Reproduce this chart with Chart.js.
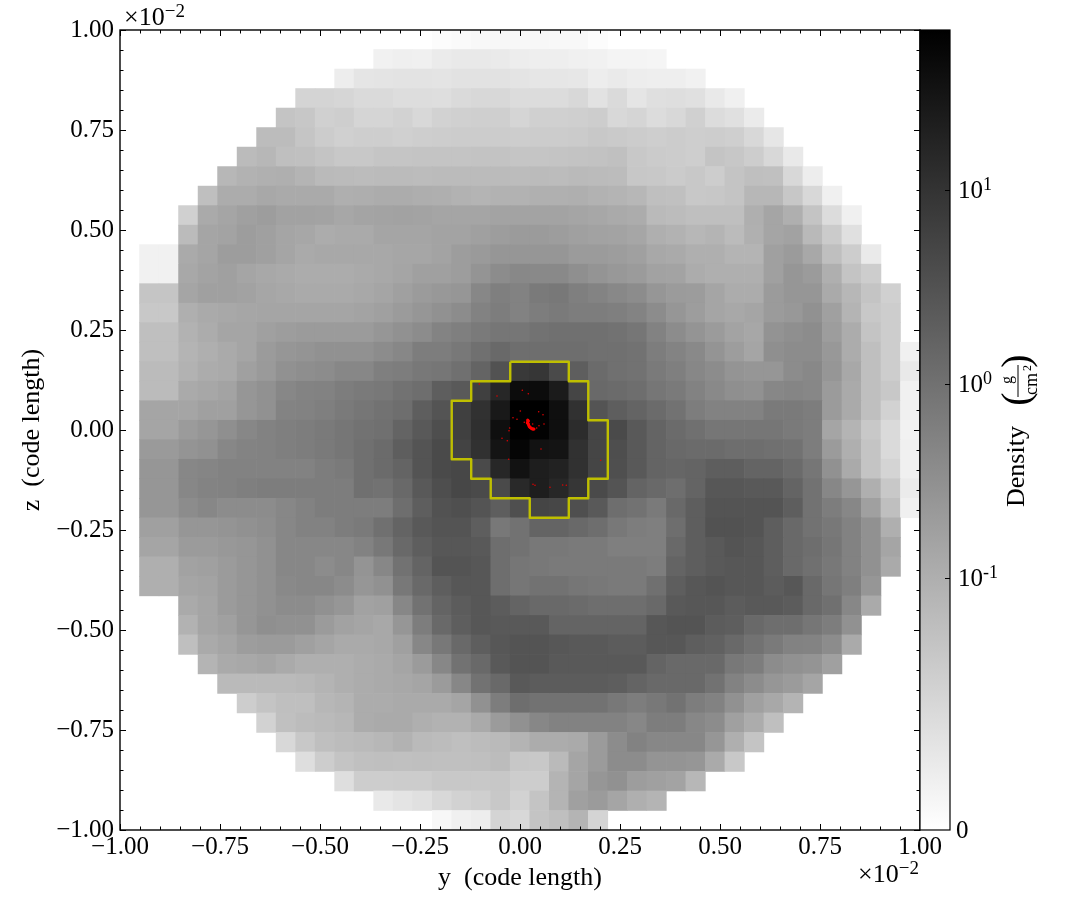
<!DOCTYPE html>
<html>
<head>
<meta charset="utf-8">
<title>Density slice</title>
<script src="https://cdn.jsdelivr.net/npm/chart.js@4"></script>
<style>
  html, body { margin: 0; padding: 0; background: #fff; }
  #wrap { position: relative; width: 1085px; height: 920px; }
  canvas { position: absolute; left: 0; top: 0; }
</style>
</head>
<body>
<div id="wrap">
  <canvas id="slice" width="1085" height="920"></canvas>
  <canvas id="colorbar" width="1085" height="920"></canvas>
</div>
<script>
// grid size of the slice, values are Density in g/cm2
var gridSize = 41;
// first filled column of each row, top row first
var rowStart = [16,13,11,9,8,7,6,5,4,3,3,1,1,1,1,1,1,1,1,1,1,1,1,1,1,1,1,1,1,3,3,3,4,5,6,7,8,9,11,13,16];
var densityRows = [
  [.0037,.0062,.0086,.01,.01,.01,.0086,.0086,.0037],
  [.017,.02,.0185,.025,.028,.027,.026,.023,.021,.021,.0185,.017,.014,.014,.012],
  [.023,.032,.033,.035,.035,.033,.036,.036,.036,.033,.031,.031,.03,.023,.026,.022,.021,.021,.017],
  [.054,.054,.051,.046,.046,.042,.042,.041,.046,.048,.048,.044,.043,.043,.048,.036,.046,.032,.04,.041,.038,.028,.0185],
  [.074,.07,.058,.061,.052,.052,.056,.049,.056,.058,.06,.06,.052,.058,.058,.06,.062,.049,.052,.044,.048,.058,.043,.038,.025],
  [.084,.084,.072,.063,.058,.061,.061,.058,.061,.062,.063,.064,.064,.062,.063,.063,.065,.068,.066,.063,.061,.063,.061,.062,.06,.048,.031],
  [.085,.09,.08,.078,.073,.069,.069,.072,.072,.073,.074,.074,.075,.075,.072,.072,.074,.075,.076,.078,.068,.065,.063,.061,.074,.07,.062,.049,.027],
  [.09,.096,.098,.099,.093,.086,.085,.084,.085,.085,.083,.085,.085,.085,.085,.084,.085,.084,.086,.085,.084,.07,.068,.065,.068,.062,.074,.08,.078,.049,.023],
  [.08,.11,.11,.13,.12,.12,.12,.1,.102,.11,.11,.102,.099,.096,.093,.096,.096,.098,.098,.099,.096,.093,.09,.08,.078,.068,.07,.073,.09,.09,.07,.049,.0185],
  [.058,.12,.145,.175,.19,.16,.16,.155,.135,.15,.155,.16,.155,.145,.145,.145,.155,.155,.155,.155,.145,.135,.12,.11,.086,.084,.08,.08,.08,.1,.145,.1,.074,.043,.0185],
  [.085,.145,.155,.19,.175,.145,.135,.11,.12,.12,.145,.145,.145,.155,.155,.175,.19,.21,.21,.19,.175,.16,.155,.14,.099,.096,.09,.093,.085,.098,.145,.16,.087,.065,.038],
  [.017,.017,.12,.145,.19,.19,.175,.145,.12,.13,.13,.13,.13,.14,.14,.155,.19,.22,.25,.25,.25,.25,.21,.21,.19,.175,.13,.12,.1,.099,.093,.093,.175,.21,.13,.08,.062,.026],
  [.017,.017,.13,.155,.175,.145,.13,.12,.11,.11,.11,.12,.13,.145,.175,.175,.19,.27,.37,.43,.41,.41,.33,.27,.23,.21,.16,.155,.11,.1,.099,.099,.175,.25,.21,.1,.074,.062],
  [.072,.072,.145,.175,.175,.16,.14,.13,.12,.12,.12,.13,.145,.175,.21,.23,.25,.44,.6,.53,.7,.78,.6,.5,.42,.37,.25,.21,.2,.145,.11,.11,.21,.25,.25,.12,.09,.074,.058],
  [.068,.068,.1,.12,.13,.14,.145,.145,.145,.145,.145,.155,.175,.21,.25,.3,.37,.53,.64,.53,.64,.72,.64,.64,.6,.5,.37,.25,.19,.145,.13,.145,.21,.23,.3,.175,.093,.068,.062],
  [.08,.08,.096,.11,.145,.145,.175,.19,.21,.21,.21,.21,.25,.3,.37,.5,.58,.72,.84,.84,.94,1.05,1.05,1.05,.94,.84,.53,.37,.27,.21,.155,.135,.28,.33,.37,.19,.11,.074,.062],
  [.08,.08,.093,.1,.12,.145,.21,.25,.27,.3,.3,.3,.37,.44,.64,.64,.78,1.05,1.36,1.13,1.13,1.13,1.13,1.05,1.05,.94,.64,.5,.4,.27,.19,.145,.33,.37,.37,.23,.11,.08,.062,.0185],
  [.085,.085,.096,.11,.12,.175,.22,.3,.34,.37,.44,.44,.58,.64,.78,.84,1.05,1.63,3.2,7.9,8.9,4.2,2,1.22,1.05,.94,.72,.58,.44,.37,.27,.25,.25,.37,.42,.25,.13,.08,.062,.028],
  [.085,.085,.12,.135,.155,.25,.3,.44,.5,.53,.64,.72,.78,.94,1.13,2,2.4,6.1,15.5,43,43,24,5.1,1.36,1.22,1.13,.84,.72,.53,.4,.33,.3,.44,.48,.44,.21,.12,.08,.068,.0185],
  [.145,.145,.145,.175,.175,.25,.3,.5,.53,.58,.72,.84,.94,1.13,2,2.9,6.1,10.7,26.6,66,66,38,10.7,2.9,2,1.63,1.22,.94,.64,.53,.53,.53,.72,.72,.64,.21,.12,.08,.056,.0185],
  [.145,.145,.21,.25,.33,.44,.53,.58,.64,.72,.84,.94,1.05,1.63,2.4,3.7,6.1,11.5,38,66,62,38,12.9,5.1,4.2,2.4,1.63,1.22,1.05,.84,.84,.84,.84,.72,.64,.145,.093,.068,.046,.016],
  [.22,.22,.27,.3,.44,.5,.53,.58,.64,.72,.84,1.05,1.22,2,2.9,4.2,5.5,10.7,32,56,34,32,10.7,5.1,3.7,2.4,1.63,1.36,1.22,1.22,1.13,1.13,1.05,.94,.64,.21,.1,.074,.046,.0185],
  [.25,.25,.44,.48,.53,.53,.53,.53,.53,.64,.72,1.05,1.22,1.63,2.9,4.2,4.7,4.2,15.5,34,22,18.6,10.7,5.1,3.5,2.4,1.63,1.51,1.63,2,2,1.63,1.63,1.22,.84,.3,.12,.074,.053,.0185],
  [.25,.25,.44,.5,.53,.58,.64,.64,.64,.64,.64,1.05,.94,1.36,2.4,3.7,4.7,4.2,4.2,14.3,22,15.5,8.9,4.2,2.9,1.63,1.36,1.13,1.63,2.6,2.6,2.4,2.4,1.63,.94,.44,.25,.1,.068,.025],
  [.25,.25,.37,.44,.37,.37,.37,.44,.53,.64,.64,.64,.64,1.13,2,3.2,3.5,2.9,2,3.5,5.1,4.7,3.5,2.4,1.13,.94,.72,1.36,2,2.9,2.9,2.9,2.9,2,.94,.64,.44,.175,.08,.0185],
  [.175,.175,.25,.25,.27,.3,.34,.44,.53,.53,.64,.72,1.05,1.63,2.4,2.9,2.9,2,.78,.94,1.63,1.63,1.36,1.13,.78,.64,.58,1.13,2,3.1,3.1,2.9,2,1.36,.94,.78,.53,.3,.1],
  [.145,.145,.21,.21,.23,.25,.3,.44,.44,.44,.44,.53,.78,1.36,2,2.6,2.6,2.4,1.13,.94,.78,.78,.72,.72,.58,.58,.58,1.36,2,2.4,2.9,2.6,2,1.36,1.13,.84,.53,.3,.145],
  [.1,.1,.16,.175,.21,.25,.3,.44,.44,.37,.44,.27,.44,.94,1.63,2.9,2.9,2.6,1.13,.84,.78,.72,.72,.72,.72,.72,.64,1.63,2,2.4,2.6,2.6,2,1.36,1.05,.78,.53,.3,.12],
  [.1,.1,.145,.155,.21,.25,.3,.4,.44,.44,.37,.25,.3,.78,1.36,2,2.6,2.6,1.13,.84,.94,.94,.84,.78,.72,.72,1.05,2,2.6,2.9,2.6,2.6,2.2,2.6,1.36,.84,.58,.25],
  [.12,.145,.21,.25,.3,.37,.37,.3,.25,.16,.175,.44,.94,1.63,2.2,2.6,2.2,1.63,1.36,1.36,1.22,1.13,1.13,1.13,1.36,2.4,2.6,2.6,2.2,2.4,2.4,2.2,1.36,1.05,.44,.12],
  [.096,.145,.175,.25,.33,.3,.3,.21,.16,.145,.13,.25,.64,1.36,2,2.6,2.4,2.4,2.4,1.63,1.63,1.63,1.63,1.63,2.6,2.9,2.9,2.2,2,1.36,1.13,1.13,.84,.64,.3],
  [.08,.12,.145,.19,.21,.21,.175,.145,.12,.12,.13,.175,.44,.78,1.36,2,2.6,2.9,2.9,2.6,2.4,2.4,2.2,2.2,2.6,2.6,2,1.8,1.36,.94,.72,.53,.5,.37,.12],
  [.093,.12,.13,.145,.12,.1,.1,.1,.11,.12,.145,.21,.44,.94,1.36,2.4,2.9,2.9,2.4,2.4,2.4,2.4,2.4,1.63,1.36,1.36,1.36,.78,.64,.37,.3,.27,.175],
  [.086,.086,.086,.086,.089,.093,.1,.11,.12,.13,.145,.21,.44,.94,1.36,2.4,2.2,2.2,2.2,2.2,2,1.63,1.36,1.36,1.36,.94,.53,.37,.25,.21,.145],
  [.062,.074,.08,.08,.09,.093,.11,.11,.12,.12,.12,.145,.3,.64,1.13,.94,.94,.94,.94,.78,.64,.78,.94,.64,.53,.3,.175,.13,.093],
  [.056,.078,.083,.086,.09,.11,.12,.12,.1,.096,.096,.12,.21,.3,.44,.53,.53,.53,.53,.44,.64,.64,.44,.37,.175,.11,.08],
  [.049,.068,.08,.084,.086,.09,.096,.086,.083,.08,.083,.086,.093,.11,.11,.12,.21,.37,.53,.44,.44,.44,.25,.1,.074],
  [.041,.062,.074,.078,.08,.078,.08,.078,.078,.08,.083,.07,.068,.086,.145,.21,.37,.37,.27,.27,.25,.12,.068],
  [.041,.062,.062,.064,.064,.068,.068,.068,.07,.062,.062,.093,.145,.25,.3,.19,.175,.155,.09],
  [.028,.033,.038,.049,.056,.06,.068,.056,.074,.093,.175,.21,.145,.1,.093],
  [.01,.0185,.022,.053,.049,.074,.08,.093,.053]
];

// yellow contour, in units of 1e-2 code length
var contourY = [-.0244,.122,.122,.1707,.1707,.2195,.2195,.1707,.1707,.122,.122,.0244,.0244,-.0732,-.0732,-.122,-.122,-.1707,-.1707,-.122,-.122,-.0244,-.0244];
var contourZ = [.1707,.1707,.122,.122,.0244,.0244,-.122,-.122,-.1707,-.1707,-.2195,-.2195,-.1707,-.1707,-.122,-.122,-.0732,-.0732,.0732,.0732,.122,.122,.1707];

// red particles, scattered ones
var particleY = [-.1017,-.0575,.0058,.0208,.0008,.0467,.0575,-.0175,-.0075,.0108,.06,.0317,.0475,.0417,-.0258,-.0275,-.045,-.0317,.0525,-.0283,.2017,.0325,.0375,.075,.1067,.1158];
var particleZ = [.115,.085,.0992,.0908,.0475,.0458,.0383,.0308,.0267,.0192,.015,.015,.0108,.005,.005,-.0017,-.0208,-.0267,-.0475,-.0733,-.0758,-.1358,-.1383,-.1433,-.1375,-.1383];
// red particles, the tight arc at the centre
var arcY = [.0192,.02,.0208,.0196,.0183,.0196,.0208,.0216,.0225,.0238,.025,.0266,.0283,.03,.0317,.0333,.035];
var arcZ = [.025,.0238,.0225,.0204,.0183,.0166,.015,.0125,.01,.0083,.0067,.0054,.0042,.0033,.0025,.0025,.0025];

var axisTicks = [-1, -.75, -.5, -.25, 0, .25, .5, .75, 1];
var colorbarTicks = [0, .1, 1, 10];
var densityMax = 66.8;

var serif = '"Liberation Serif", serif';

// colorbar scale: linear below 0.1, log above it, returns 0..1
function densityToFrac(d) {
  var pos = d < .1 ? 252 * d / .1 : 252 + 194 * Math.log10(d / .1);
  return Math.min(pos / 800, 1);
}
function densityColor(d) {
  var g = Math.round(255 * (1 - densityToFrac(d)));
  return 'rgb(' + g + ',' + g + ',' + g + ')';
}
function tickText(v) {
  return (v < 0 ? '\u2212' : '') + Math.abs(v).toFixed(2);
}

var cells = [], cellColors = [];
var cellSize = 2 / gridSize;
densityRows.forEach(function (row, j) {
  row.forEach(function (d, k) {
    var i = rowStart[j] + k;
    var top = 1 - j * cellSize;
    // small overlap so no white seams show between the cells
    cells.push({ x: -1 + (i + .5) * cellSize, y: [top - cellSize - .0008, top + .0008] });
    cellColors.push(densityColor(d));
  });
});

var contour = contourY.map(function (y, n) { return { x: y, y: contourZ[n] }; });
var particles = particleY.map(function (y, n) { return { x: y, y: particleZ[n] }; });
var arc = arcY.map(function (y, n) { return { x: y, y: arcZ[n] }; });

// text with a raised exponent
function drawPower(ctx, x, y, base, exp, size) {
  ctx.textAlign = 'left';
  ctx.textBaseline = 'alphabetic';
  ctx.font = size + 'px ' + serif;
  ctx.fillText(base, x, y);
  var w = ctx.measureText(base).width;
  ctx.font = Math.round(size * .73) + 'px ' + serif;
  ctx.fillText(exp, x + w, y - 8);
}

var framePlugin = {
  id: 'frame',
  afterDatasetsDraw: function (chart) {
    var ctx = chart.ctx, a = chart.chartArea;
    var sx = chart.scales.x, sy = chart.scales.y;
    ctx.save();
    ctx.strokeStyle = '#000';
    ctx.lineWidth = 1;
    ctx.beginPath();
    for (var n = 0; n <= 40; n++) {
      var v = -1 + n * .05;
      var len = n % 5 === 0 ? 6 : 3.5;
      var px = Math.round(sx.getPixelForValue(v)) + .5;
      var py = Math.round(sy.getPixelForValue(v)) + .5;
      ctx.moveTo(px, a.bottom); ctx.lineTo(px, a.bottom - len);
      ctx.moveTo(px, a.top); ctx.lineTo(px, a.top + len);
      ctx.moveTo(a.left, py); ctx.lineTo(a.left + len, py);
      ctx.moveTo(a.right, py); ctx.lineTo(a.right - len, py);
    }
    ctx.stroke();
    ctx.lineWidth = 1.4;
    ctx.strokeRect(a.left, a.top, a.right - a.left, a.bottom - a.top);
    // offset text of both axes
    ctx.fillStyle = '#000';
    drawPower(ctx, 124, 25, '\u00d710', '\u22122', 26);
    drawPower(ctx, 858, 882, '\u00d710', '\u22122', 26);
    ctx.restore();
  }
};

new Chart(document.getElementById('slice'), {
  type: 'bar',
  data: {
    datasets: [
      { type: 'scatter', data: arc, pointRadius: 1.5, pointBorderWidth: 0, backgroundColor: '#ff0000', order: 0 },
      { type: 'scatter', data: particles, pointRadius: .8, pointBorderWidth: 0, backgroundColor: '#e00000', order: 0 },
      { type: 'scatter', data: contour, showLine: true, pointRadius: 0, borderColor: '#bfbf00', borderWidth: 2.4, borderJoinStyle: 'round', order: 1 },
      { data: cells, backgroundColor: cellColors, borderWidth: 0, barPercentage: 1.03, categoryPercentage: 1, order: 2 }
    ]
  },
  options: {
    responsive: false,
    animation: false,
    devicePixelRatio: 1,
    events: [],
    layout: { padding: { left: 0, top: 30, right: 165, bottom: 0 } },
    plugins: { legend: { display: false }, tooltip: { enabled: false } },
    scales: {
      x: {
        type: 'linear', min: -1, max: 1, offset: false,
        grid: { display: false, drawTicks: false, tickLength: 0 }, border: { display: false },
        afterBuildTicks: function (s) { s.ticks = axisTicks.map(function (v) { return { value: v }; }); },
        afterFit: function (s) { s.height = 90; },
        ticks: { autoSkip: false, maxRotation: 0, padding: 2, color: '#000', font: { family: serif, size: 25 }, callback: tickText },
        title: { display: true, text: 'y  (code length)', color: '#000', font: { family: serif, size: 26 }, padding: { top: 0, bottom: 26 } }
      },
      y: {
        type: 'linear', min: -1, max: 1,
        grid: { display: false, drawTicks: false, tickLength: 0 }, border: { display: false },
        afterBuildTicks: function (s) { s.ticks = axisTicks.map(function (v) { return { value: v }; }); },
        afterFit: function (s) { s.width = 120; },
        ticks: { autoSkip: false, padding: 6, color: '#000', font: { family: serif, size: 25 }, callback: tickText },
        title: { display: true, text: 'z  (code length)', color: '#000', font: { family: serif, size: 26 }, padding: { top: 17, bottom: 0 } }
      }
    }
  },
  plugins: [framePlugin]
});

var colorbarPlugin = {
  id: 'colorbarText',
  afterDraw: function (chart) {
    var ctx = chart.ctx, a = chart.chartArea, s = chart.scales.y;
    ctx.save();
    ctx.strokeStyle = '#000';
    ctx.fillStyle = '#000';
    ctx.lineWidth = 1.2;
    ctx.strokeRect(a.left, a.top, a.right - a.left, a.bottom - a.top);
    ctx.beginPath();
    colorbarTicks.forEach(function (d) {
      var py = Math.round(s.getPixelForValue(densityToFrac(d))) + .5;
      if (d > 0) { ctx.moveTo(a.right, py); ctx.lineTo(a.right - 5, py); }
    });
    ctx.stroke();
    colorbarTicks.forEach(function (d) {
      var py = s.getPixelForValue(densityToFrac(d));
      if (d === 0) {
        ctx.font = '25px ' + serif;
        ctx.textAlign = 'left';
        ctx.textBaseline = 'alphabetic';
        ctx.fillText('0', 956, py + 8);
      } else {
        drawPower(ctx, 958, py + 8, '10', String(Math.round(Math.log10(d))), 25);
      }
    });
    // label turned on its side, with the unit as a fraction in parens
    ctx.translate(1024, 507);
    ctx.rotate(-Math.PI / 2);
    ctx.textAlign = 'left';
    ctx.textBaseline = 'alphabetic';
    ctx.font = '26px ' + serif;
    ctx.fillText('Density', 0, 0);
    ctx.font = '40px ' + serif;
    ctx.textAlign = 'center';
    ctx.fillText('(', 108, 5);
    ctx.fillText(')', 146, 5);
    ctx.font = '16px ' + serif;
    ctx.fillText('g', 127, -12);
    ctx.font = '18px ' + serif;
    ctx.fillText('cm', 123, 13);
    ctx.font = '12px ' + serif;
    ctx.fillText('2', 139, 7);
    ctx.lineWidth = 1;
    ctx.beginPath();
    ctx.moveTo(110, -6);
    ctx.lineTo(142, -6);
    ctx.stroke();
    ctx.restore();
  }
};

new Chart(document.getElementById('colorbar'), {
  type: 'bar',
  data: {
    labels: ['Density'],
    datasets: [{
      data: [[0, 1]],
      barPercentage: 1,
      categoryPercentage: 1,
      borderWidth: 0,
      backgroundColor: function (c) {
        var a = c.chart.chartArea;
        if (!a) return '#888';
        var grad = c.chart.ctx.createLinearGradient(0, a.bottom, 0, a.top);
        grad.addColorStop(0, densityColor(0));
        grad.addColorStop(1, densityColor(densityMax));
        return grad;
      }
    }]
  },
  options: {
    responsive: false,
    animation: false,
    devicePixelRatio: 1,
    events: [],
    layout: { padding: { left: 920, top: 30, right: 135, bottom: 90 } },
    plugins: { legend: { display: false }, tooltip: { enabled: false } },
    scales: {
      x: { display: false },
      y: { display: false, min: 0, max: 1 }
    }
  },
  plugins: [colorbarPlugin]
});
</script>
</body>
</html>
